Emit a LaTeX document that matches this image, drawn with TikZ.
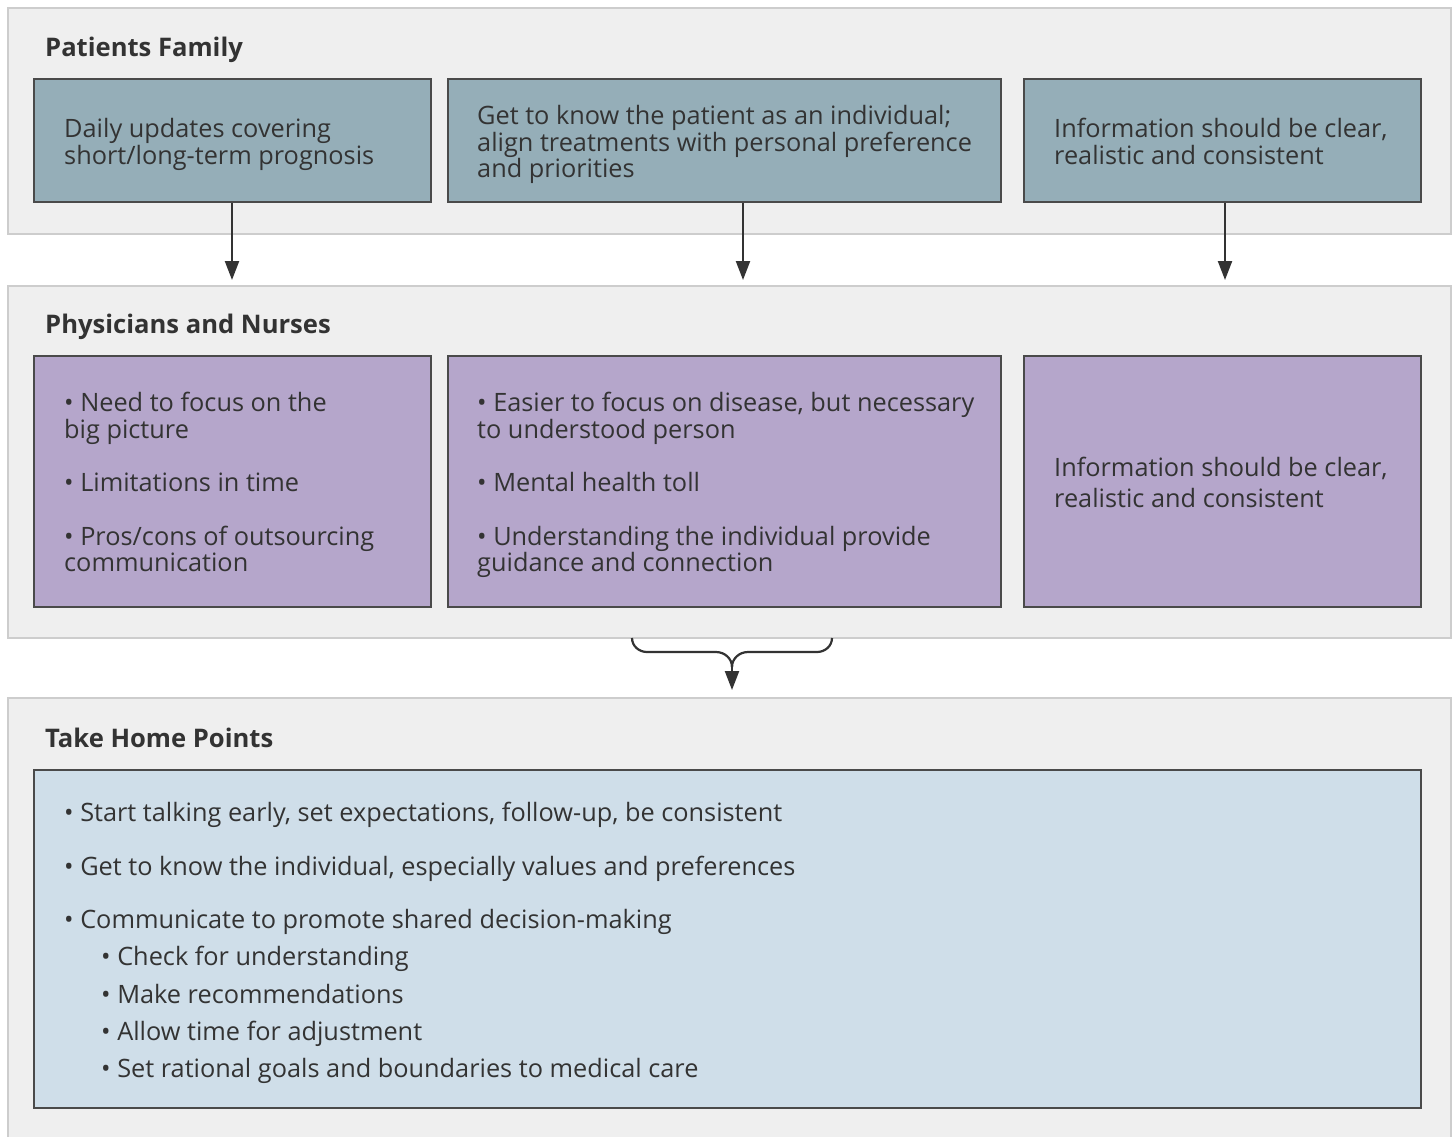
\documentclass[tikz,border=0pt]{standalone}
\usepackage{fontspec}
\setmainfont{Open Sans}
\usetikzlibrary{arrows.meta,calc}
\definecolor{panelfill}{HTML}{EFEFEF}
\definecolor{panelline}{HTML}{CDCDCD}
\definecolor{boxblue}{HTML}{95AEB8}
\definecolor{boxpurple}{HTML}{B5A6CB}
\definecolor{boxlight}{HTML}{CFDEE9}
\definecolor{boxline}{HTML}{4A4A4A}
\definecolor{textgray}{HTML}{333333}
\newcommand{\bodyfnt}{\fontsize{25.3}{27}\selectfont}
\newcommand{\titlefnt}{\fontsize{25.6}{27}\selectfont\bfseries}
\tikzset{
  panel/.style={draw=panelline, fill=panelfill, line width=2.5pt},
  card/.style={draw=boxline, line width=1.2pt, inner sep=0pt},
  txt/.style={anchor=base west, inner sep=0pt, font=\bodyfnt, text=textgray},
  ttl/.style={anchor=base west, inner sep=0pt, font=\titlefnt, text=textgray},
  arr/.style={draw=textgray, line width=2.2pt, -{Triangle[length=19pt,width=14pt]}},
  brace/.style={draw=textgray, line width=2.2pt},
}
\begin{document}
\begin{tikzpicture}[x=1pt,y=-1pt]
\useasboundingbox (0,0) rectangle (1455,1136);
\fill[white] (0,0) rectangle (1455,1136);
% panels
\draw[panel] (8,8) rectangle (1451,234);
\draw[panel] (8,286) rectangle (1451,638);
\draw[panel] (8,698) rectangle (1451,1150);
% titles
\node[ttl] (t1) at (45,56) {Patients Family};
\node[ttl] (t2) at (45,333.5) {Physicians and Nurses};
\node[ttl] (t3) at (45,747.5) {Take Home Points};
% row 1 boxes
\node[card, fill=boxblue, minimum width=397pt, minimum height=123pt] (b1) at (232.5,140.5) {};
\node[card, fill=boxblue, minimum width=553pt, minimum height=123pt] (b2) at (724.5,140.5) {};
\node[card, fill=boxblue, minimum width=397pt, minimum height=123pt] (b3) at (1222.5,140.5) {};
% row 2 boxes
\node[card, fill=boxpurple, minimum width=397pt, minimum height=251pt] (c1) at (232.5,481.5) {};
\node[card, fill=boxpurple, minimum width=553pt, minimum height=251pt] (c2) at (724.5,481.5) {};
\node[card, fill=boxpurple, minimum width=397pt, minimum height=251pt] (c3) at (1222.5,481.5) {};
% take home box
\node[card, fill=boxlight, minimum width=1387pt, minimum height=338pt] (d1) at (727.5,939) {};
% row 1 texts
\node[txt] (b1l1) at (64,137.5) {Daily updates covering};
\node[txt] (b1l2) at (64,164) {short/long-term prognosis};
\node[txt] (b2l1) at (477,124.5) {Get to know the patient as an individual;};
\node[txt] (b2l2) at (477,151) {align treatments with personal preference};
\node[txt] (b2l3) at (477,177.5) {and priorities};
\node[txt] (b3l1) at (1054,137.5) {Information should be clear,};
\node[txt] (b3l2) at (1054,164) {realistic and consistent};
% row 2 texts
\node[txt] (c1l1) at (64,411.7) {• Need to focus on the};
\node[txt] (c1l2) at (64,438.3) {big picture};
\node[txt] (c1l3) at (64,491.7) {• Limitations in time};
\node[txt] (c1l4) at (64,545) {• Pros/cons of outsourcing};
\node[txt] (c1l5) at (64,571.7) {communication};
\node[txt] (c2l1) at (477,411.7) {• Easier to focus on disease, but necessary};
\node[txt] (c2l2) at (477,438.3) {to understood person};
\node[txt] (c2l3) at (477,491.7) {• Mental health toll};
\node[txt] (c2l4) at (477,545) {• Understanding the individual provide};
\node[txt] (c2l5) at (477,571.7) {guidance and connection};
\node[txt] (c3l1) at (1054,476) {Information should be clear,};
\node[txt] (c3l2) at (1054,507) {realistic and consistent};
% take home texts
\node[txt] (d1l1) at (64,821.5) {• Start talking early, set expectations, follow-up, be consistent};
\node[txt] (d1l2) at (64,875.5) {• Get to know the individual, especially values and preferences};
\node[txt] (d1l3) at (64,928.5) {• Communicate to promote shared decision-making};
\node[txt] (d1l4) at (101,965.5) {• Check for understanding};
\node[txt] (d1l5) at (101,1003) {• Make recommendations};
\node[txt] (d1l6) at (101,1040) {• Allow time for adjustment};
\node[txt] (d1l7) at (101,1077.5) {• Set rational goals and boundaries to medical care};
% arrows row1 -> row2
\coordinate (e1) at (232,280);
\coordinate (e2) at (743,280);
\coordinate (e3) at (1225,280);
\draw[arr] (b1.south -| e1) -- (e1);
\draw[arr] (b2.south -| e2) -- (e2);
\draw[arr] (b3.south -| e3) -- (e3);
% brace
\coordinate (bl) at (632,638);
\coordinate (br) at (832,638);
\coordinate (bm) at (732,667);
\coordinate (bt) at (732,690);
\draw[brace] (bl) to[out=-90,in=180] (647,652) -- (716,652) to[out=0,in=90] (bm);
\draw[brace] (br) to[out=-90,in=0] (817,652) -- (748,652) to[out=180,in=90] (bm);
\draw[arr] (bm) -- (bt);
\end{tikzpicture}
\end{document}
